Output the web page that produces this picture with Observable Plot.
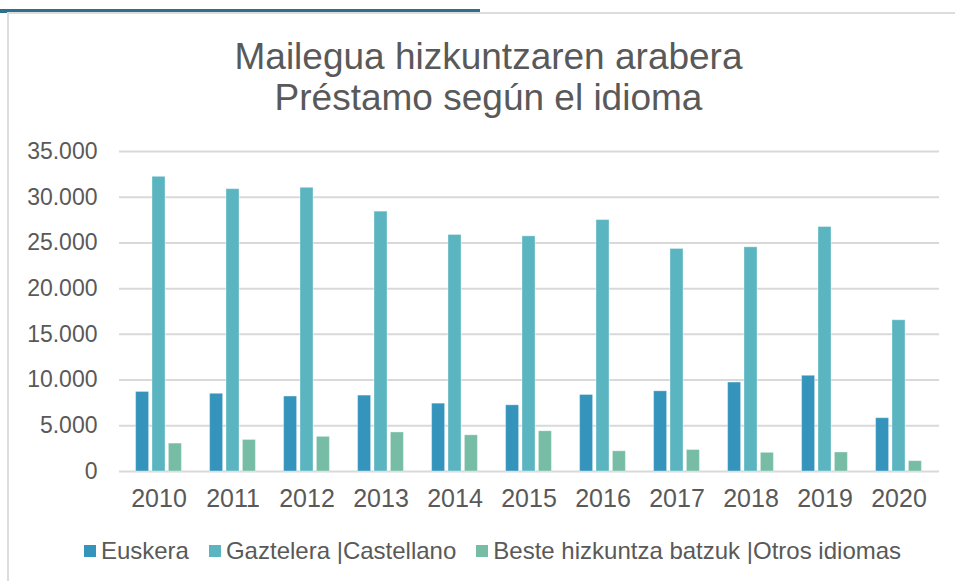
<!DOCTYPE html>
<html>
<head>
<meta charset="utf-8">
<script src="https://cdn.jsdelivr.net/npm/d3@7"></script>
<script src="https://cdn.jsdelivr.net/npm/@observablehq/plot@0.6"></script>
<style>
  body { margin: 0; background: #fff; }
  #root { position: relative; width: 955px; height: 581px; overflow: hidden; font-family: "Liberation Sans", Arial, sans-serif; color: #595959; }
  .deco { position: absolute; }
  #title { position: absolute; left: 0; width: 977px; top: 36px; text-align: center; font-size: 37px; line-height: 41px; color: #595959; }
  #chart { position: absolute; left: 0; top: 130px; }
  #legend { position: absolute; left: 0; width: 985px; top: 537px; display: flex; justify-content: center; font-size: 24px; color: #595959; }
  .item { display: flex; align-items: center; margin: 0 10px; }
  .sw { width: 12px; height: 12px; margin-right: 5px; }
</style>
</head>
<body>
<div id="root">
  <div class="deco" style="left:0;top:9px;width:480px;height:3px;background:#2e6f8e"></div>
  <div class="deco" style="left:7px;top:12px;width:948px;height:2px;background:#dcdcdc"></div>
  <div class="deco" style="left:0;top:12px;width:7px;height:1px;background:#2e6f8e"></div>
  <div class="deco" style="left:7px;top:12px;width:2px;height:569px;background:#dcdcdc"></div>
  <div id="title">Mailegua hizkuntzaren arabera<br>Préstamo según el idioma</div>
  <div id="chart"></div>
  <div id="legend"></div>
</div>
<script>
const years = ["2010","2011","2012","2013","2014","2015","2016","2017","2018","2019","2020"];
const seriesNames = ["Euskera", "Gaztelera |Castellano", "Beste hizkuntza batzuk |Otros idiomas"];
const seriesColors = ["#3594bc", "#5ab5c0", "#77bda6"];
const euskera   = [8700, 8500, 8200, 8300, 7420, 7240, 8370, 8770, 9730, 10470, 5830];
const gaztelera = [32230, 30880, 31030, 28420, 25870, 25720, 27500, 24340, 24520, 26740, 16540];
const otros     = [3050, 3450, 3790, 4270, 3960, 4400, 2210, 2350, 2040, 2080, 1130];
const yTicks = [0, 5000, 10000, 15000, 20000, 25000, 30000, 35000];

const seriesValues = [euskera, gaztelera, otros];
const tables = seriesValues.map(vals => years.map((y, i) => ({year: y, value: vals[i]})));

const loc = d3.formatLocale({decimal: ",", thousands: ".", grouping: [3], currency: ["", "€"]});
const fmt = loc.format(",.0f");

const offsets = [-16.4, 0, 16.4];
const pi = 0.822;

const chart = Plot.plot({
  width: 955,
  height: 392,
  marginLeft: 119,
  marginRight: 16,
  marginTop: 21,
  marginBottom: 51,
  style: {fontFamily: '"Liberation Sans", Arial, sans-serif', color: "#595959", background: "transparent"},
  x: {domain: years, paddingInner: pi, paddingOuter: pi / 2, label: null},
  y: {domain: [0, 35000], label: null},
  marks: [
    Plot.ruleY(yTicks, {stroke: "#d9d9d9", strokeWidth: 2}),
    ...tables.map((t, k) => Plot.barY(t, {
      x: "year", y: "value", fill: seriesColors[k], dx: offsets[k],
      stroke: "#ffffff", strokeOpacity: 0.35, strokeWidth: 1
    })),
    Plot.axisY(yTicks, {tickSize: 0, tickPadding: 22, fontSize: 23, tickFormat: fmt, fill: "#595959"}),
    Plot.axisX({tickSize: 0, tickPadding: 18, fontSize: 25, fill: "#595959"})
  ]
});
document.getElementById("chart").appendChild(chart);

const legend = document.getElementById("legend");
seriesNames.forEach((name, k) => {
  const it = document.createElement("div");
  it.className = "item";
  const sw = document.createElement("div");
  sw.className = "sw";
  sw.style.background = seriesColors[k];
  const tx = document.createElement("span");
  tx.textContent = name;
  it.appendChild(sw); it.appendChild(tx);
  legend.appendChild(it);
});
</script>
</body>
</html>
